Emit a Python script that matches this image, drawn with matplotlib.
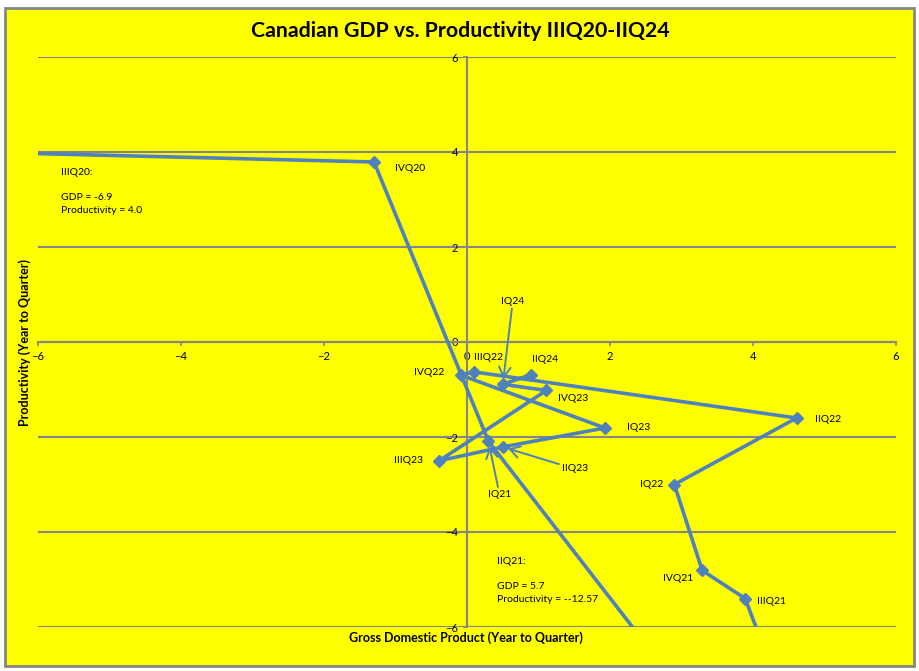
import matplotlib.pyplot as plt
from matplotlib.patches import Rectangle

plt.rcParams['font.family'] = ['Lato', 'DejaVu Sans']

# quarterly data, year-to-quarter % change
quarters = ['IIIQ20', 'IVQ20', 'IQ21', 'IIQ21', 'IIIQ21', 'IVQ21', 'IQ22', 'IIQ22',
            'IIIQ22', 'IVQ22', 'IQ23', 'IIQ23', 'IIIQ23', 'IVQ23', 'IQ24', 'IIQ24']
gdp = [-6.9, -1.3, 0.3, 5.7, 3.89, 3.29, 2.9, 4.61,
       0.1, -0.08, 1.93, 0.5, -0.39, 1.11, 0.5, 0.89]
productivity = [4.0, 3.79, -2.09, -12.57, -5.4, -4.81, -3.0, -1.6,
                -0.63, -0.7, -1.81, -2.21, -2.5, -1.02, -0.89, -0.69]
ticks = [-6, -4, -2, 0, 2, 4, 6]

# label placement: offset in pixels, horizontal alignment, arrow?
label_pos = {
    'IVQ20': (21, -7, 'left', False),
    'IQ21': (11, -53, 'center', True),
    'IIIQ21': (12, -3, 'left', False),
    'IVQ21': (-9, -8, 'right', False),
    'IQ22': (-11, 0, 'right', False),
    'IIQ22': (18, -1, 'left', False),
    'IIIQ22': (0, 14, 'left', False),
    'IVQ22': (-17, 3, 'right', False),
    'IQ23': (22, 0, 'left', False),
    'IIQ23': (72, -22, 'center', True),
    'IIIQ23': (-16, 0, 'right', False),
    'IVQ23': (12, -8, 'left', False),
    'IQ24': (10, 83, 'center', True),
    'IIQ24': (1, 15, 'left', False),
}

W, H = 919, 671
blue = '#4F81BD'
gray = '#868686'

fig = plt.figure(figsize=(W / 100, H / 100), dpi=100)
fig.patches.append(Rectangle((5 / W, 1 - 666 / H), 909 / W, 658 / H, transform=fig.transFigure,
                             facecolor='#FFFF00', edgecolor=gray, lw=2, zorder=-5))

ax = fig.add_axes([38 / W, 1 - 627 / H, 858 / W, 570 / H])
ax.set_facecolor('#FFFF00')
ax.plot(gdp, productivity, color=blue, lw=2.6, marker='D', markersize=6, zorder=3)

for q, x, y in zip(quarters, gdp, productivity):
    if q not in label_pos:
        continue
    dx, dy, ha, arrow = label_pos[q]
    if arrow:
        ax.annotate(q, (x, y), xytext=(dx, dy), textcoords='offset pixels', ha='center', va='center',
                    fontsize=7.5,
                    arrowprops=dict(arrowstyle='->, head_length=0.5, head_width=0.3', color=blue, lw=1.4,
                                    shrinkA=0, shrinkB=4, mutation_scale=14))
    else:
        ax.annotate(q, (x, y), xytext=(dx, dy), textcoords='offset pixels', ha=ha, va='center',
                    fontsize=7.5)

ax.set_xlim(-6, 6)
ax.set_ylim(-6, 6)
ax.set_xticks(ticks)
ax.set_yticks(ticks)
ax.spines['left'].set_position('zero')
ax.spines['bottom'].set_position('zero')
ax.spines['top'].set_visible(False)
ax.spines['right'].set_visible(False)
for s in ['left', 'bottom']:
    ax.spines[s].set_color(gray)
    ax.spines[s].set_linewidth(1.5)
ax.tick_params(length=3, width=1.2, color=gray, labelsize=8)
ax.yaxis.grid(True, color=gray, lw=1.5)
ax.set_axisbelow(True)

fig.text(61 / W, 1 - 168 / H, 'IIIQ20:\n\nGDP = -6.9\nProductivity = 4.0', fontsize=7.5, va='top',
         linespacing=1.5)
fig.text(497 / W, 1 - 557 / H, 'IIQ21:\n\nGDP = 5.7\nProductivity = --12.57', fontsize=7.5, va='top',
         linespacing=1.5)

fig.text(460 / W, 1 - 31 / H, 'Canadian GDP vs. Productivity IIIQ20-IIQ24', ha='center', va='center',
         fontsize=15.3, fontweight='bold')
fig.text(466 / W, 1 - 638 / H, 'Gross Domestic Product (Year to Quarter)', ha='center', va='center',
         fontsize=9, fontweight='bold')
fig.text(25 / W, 1 - 342 / H, 'Productivity (Year to Quarter)', ha='center', va='center',
         rotation=90, fontsize=9, fontweight='bold')

fig.savefig('out.png', dpi=100)
